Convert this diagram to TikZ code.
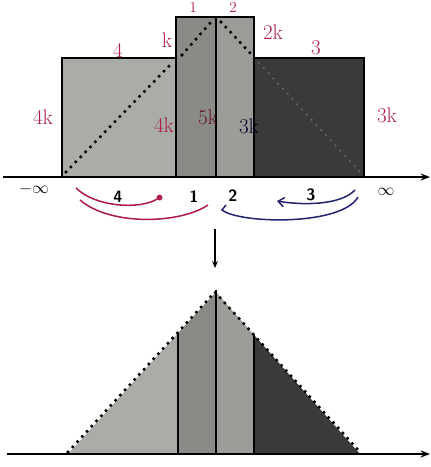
\documentclass[tikz,border=0pt]{standalone}
\usepackage{fontspec}
\usetikzlibrary{arrows.meta, positioning}

\definecolor{inkred}{RGB}{172,30,78}
\definecolor{inkblue}{RGB}{38,38,112}
\definecolor{greyfour}{RGB}{170,172,168}
\definecolor{greyone}{RGB}{138,139,135}
\definecolor{greytwo}{RGB}{156,157,153}
\definecolor{greythree}{RGB}{58,58,58}

\begin{document}
\begin{tikzpicture}[
    x=0.03cm, y=-0.03cm,
    axis/.style={draw=black, line width=1.3pt, -{Stealth[length=8pt, width=6pt]}},
    bar/.style={draw=black, line width=1.3pt},
    slope/.style={draw=black, line width=3pt, dash pattern=on 0pt off 6pt, line cap=round},
    ink/.style={text=inkred, font=\fontsize{18}{20}\selectfont},
    smallink/.style={text=inkred, font=\fontsize{13}{14}\selectfont},
    tick/.style={font=\sffamily\bfseries\fontsize{14}{16}\selectfont},
    redarc/.style={draw=inkred, line width=1.3pt},
    bluearc/.style={draw=inkblue, line width=1.3pt}
]
\useasboundingbox (0,0) rectangle (431,467);

% TOP: four bars
\filldraw[bar, fill=greyfour] (62,58) rectangle (176,177);
\filldraw[bar, fill=greyone] (176,17) rectangle (216,177);
\filldraw[bar, fill=greytwo] (216,17) rectangle (254,177);
\filldraw[bar, fill=greythree] (254,58) rectangle (364,177);

% dotted slopes inside bars
\draw[slope] (66,172) -- (172,63);
\draw[slope] (182,55) -- (211,22);
\draw[slope] (221,22) -- (251,54);
\draw[slope, draw=black!60, line width=2pt] (259,63) -- (360,172);

\coordinate (topL) at (3,177);
\coordinate (topR) at (430,177);
\draw[axis] (topL) -- (topR);

% bar labels
\node[smallink] (topOne) at (193,7) {1};
\node[smallink] (topTwo) at (233,7) {2};
\node[ink] (lblK) at (167,40) {k};
\node[ink] (lblTwoK) at (273,32) {2k};
\node[ink] (lblFour) at (118,50) {4};
\node[ink] (lblThree) at (316,48) {3};
\node[ink] (lblFourK) at (43,117) {4k};
\node[ink] (lblThreeK) at (387,115) {3k};
\node[ink] (inFourK) at (164,125) {4k};
\node[ink, text=inkred!60!black] (inFiveK) at (208,117) {5k};
\node[ink, text=black!85!blue] (inThreeK) at (249,126) {3k};

% axis ticks
\node[tick] (minusInf) at (34,189) {$-\infty$};
\node[tick] (tickFour) at (118,197) {4};
\node[tick] (tickOne) at (194,197) {1};
\node[tick] (tickTwo) at (233,196) {2};
\node[tick] (tickThree) at (311,195) {3};
\node[tick] (plusInf) at (386,192) {$\infty$};

% order of cuts
\coordinate (redA) at (76,188);
\coordinate (redB) at (162,196);
\coordinate (redC) at (80,200);
\coordinate (redD) at (208,205);
\coordinate (blueA) at (355,190);
\coordinate (blueB) at (277,201);
\coordinate (blueC) at (358,197);
\coordinate (blueD) at (222,210);
\draw[redarc, -{Circle[length=5pt]}] (redA) .. controls (95,207) and (140,210) .. (redB);
\draw[redarc] (redC) .. controls (110,226) and (180,224) .. (redD);
\draw[bluearc, -{Straight Barb[length=5pt, width=8pt]}] (blueA) .. controls (340,206) and (300,205) .. (blueB);
\draw[bluearc] (blueC) .. controls (342,226) and (240,224) .. (blueD) -- ++(4,-5);

% step down
\coordinate (stepTop) at (215,229);
\coordinate (stepEnd) at (215,268);
\draw[black, line width=1.3pt, -{Stealth[length=6pt, width=5pt]}] (stepTop) -- (stepEnd);

% BOTTOM: merged triangle
\fill[greyfour] (68,454) -- (178,333) -- (178,454) -- cycle;
\fill[greyone] (178,454) -- (178,333) -- (216,292) -- (216,454) -- cycle;
\fill[greytwo] (216,454) -- (216,292) -- (254,335) -- (254,454) -- cycle;
\fill[greythree] (254,454) -- (254,335) -- (360,454) -- cycle;
\draw[bar] (178,454) -- (178,333);
\draw[bar] (216,454) -- (216,290);
\draw[bar] (254,454) -- (254,335);
\draw[slope] (68,452) -- (215,292) -- (360,452);

\coordinate (botL) at (7,454);
\coordinate (botR) at (430,454);
\draw[axis] (botL) -- (botR);

\end{tikzpicture}
\end{document}
